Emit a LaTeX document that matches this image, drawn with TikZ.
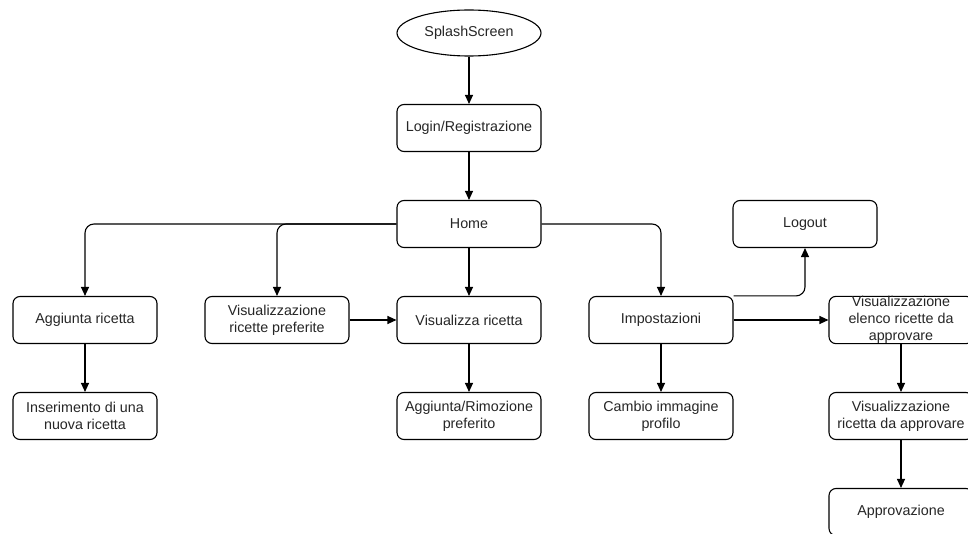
\documentclass[tikz,border=0pt]{standalone}
\usepackage{fontspec}
\setmainfont{Liberation Sans}
\usetikzlibrary{arrows.meta,shapes.geometric}
\begin{document}
\begin{tikzpicture}[x=1pt,y=-1pt,
  box/.style={draw, line width=1.1pt, rounded corners=7pt, minimum width=144pt, minimum height=47pt, inner sep=0pt, align=center, font=\fontsize{14.3}{17}\selectfont, text=black!85},
  ell/.style={draw, ellipse, line width=1.1pt, minimum width=144pt, minimum height=46pt, inner sep=0pt, font=\fontsize{14.3}{17}\selectfont, text=black!85},
  arr/.style={-{Triangle[length=9pt,width=8pt]}, line width=1.1pt, rounded corners=9pt}]
\clip (0,0) rectangle (968,534);
\fill[white] (0,0) rectangle (968,534);
\node[ell] (splash) at (469,33) {SplashScreen};
\node[box] (login) at (469,128) {Login/Registrazione};
\node[box] (home) at (469,224) {Home};
\node[box] (logout) at (805,224) {Logout};
\node[box] (agg) at (85,320) {Aggiunta ricetta};
\node[box] (pref) at (277,320) {Visualizzazione\\ricette preferite};
\node[box] (vis) at (469,320) {Visualizza ricetta};
\node[box] (imp) at (661,320) {Impostazioni};
\node[box] (elenco) at (901,320) {Visualizzazione\\elenco ricette da\\approvare};
\node[box] (ins) at (85,416) {Inserimento di una\\nuova ricetta};
\node[box] (rim) at (469,416) {Aggiunta/Rimozione\\preferito};
\node[box] (cambio) at (661,416) {Cambio immagine\\profilo};
\node[box] (visapp) at (901,416) {Visualizzazione\\ricetta da approvare};
\node[box] (appr) at (901,512) {Approvazione};
\draw[arr] (splash) -- (login);
\draw[arr] (login) -- (home);
\draw[arr] (home.west) -| (agg.north);
\draw[arr] (home.west) -| (pref.north);
\draw[arr] (home) -- (vis);
\draw[arr] (home.east) -| (imp.north);
\draw[arr] (imp.north east) -| (logout.south);
\draw[arr] (imp) -- (elenco);
\draw[arr] (pref) -- (vis);
\draw[arr] (agg) -- (ins);
\draw[arr] (vis) -- (rim);
\draw[arr] (imp) -- (cambio);
\draw[arr] (elenco) -- (visapp);
\draw[arr] (visapp) -- (appr);
\end{tikzpicture}
\end{document}
